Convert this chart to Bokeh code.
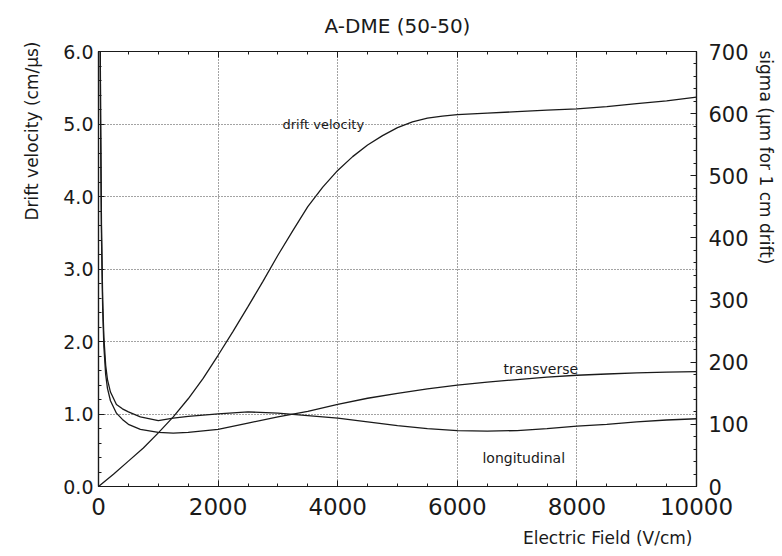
from bokeh.plotting import figure
from bokeh.models import (Range1d, LinearAxis, FixedTicker, Label, Title,
                          PrintfTickFormatter)
from bokeh.embed import file_html
from bokeh.resources import INLINE

# Electric field (V/cm) and drift velocity (cm/us)
field_v = [0, 250, 500, 750, 1000, 1250, 1500, 1750, 2000, 2250, 2500, 2750,
           3000, 3250, 3500, 3750, 4000, 4250, 4500, 4750, 5000, 5250, 5500,
           5750, 6000, 6500, 7000, 7500, 8000, 8500, 9000, 9500, 10000]
drift_velocity = [0.0, 0.17, 0.35, 0.53, 0.74, 0.96, 1.21, 1.49, 1.81, 2.14,
                  2.48, 2.83, 3.19, 3.53, 3.86, 4.13, 4.36, 4.55, 4.71, 4.84,
                  4.95, 5.03, 5.08, 5.11, 5.13, 5.15, 5.17, 5.19, 5.21, 5.24,
                  5.28, 5.32, 5.37]

# Electric field (V/cm) and diffusion sigma (um for 1 cm drift)
field_s = [20, 35, 50, 70, 90, 120, 150, 200, 300, 400, 500, 700, 1000, 1250,
           1500, 2000, 2500, 3000, 3500, 4000, 4500, 5000, 5500, 6000, 6500,
           7000, 7500, 8000, 8500, 9000, 9500, 10000]
sigma_longitudinal = [900, 600, 420, 300, 240, 195, 172, 152, 132, 125, 120,
                      112, 106, 110, 113, 117, 120, 118, 114, 110, 104, 98, 93,
                      90, 89, 90, 93, 97, 100, 104, 107, 109]
sigma_transverse = [880, 580, 400, 285, 225, 180, 158, 138, 118, 108, 100, 92,
                    87, 86, 87, 92, 102, 112, 121, 132, 142, 150, 157, 163,
                    168, 172, 176, 179, 181, 183, 184, 185]

x_ticks = [0, 2000, 4000, 6000, 8000, 10000]
x_minor = list(range(0, 10001, 500))
v_ticks = [0, 1, 2, 3, 4, 5, 6]
v_minor = [i * 0.2 for i in range(31)]
s_ticks = list(range(0, 701, 100))
s_minor = list(range(0, 701, 20))

FONT = "DejaVu Sans"
INK = "#1a1a1a"

p = figure(width=782, height=556, x_range=Range1d(0, 10000),
           y_range=Range1d(0, 6), output_backend="svg", toolbar_location=None,
           min_border_left=98, min_border_right=86, min_border_top=51,
           min_border_bottom=70)
p.background_fill_color = "white"
p.border_fill_color = "white"
p.outline_line_color = INK
p.outline_line_width = 1.2

p.title.text = "A-DME (50-50)"
p.title.align = "center"
p.title.vertical_align = "top"
p.title.text_font = FONT
p.title.text_font_size = "20px"
p.title.text_font_style = "normal"
p.title.text_color = INK
p.title.standoff = 24

p.extra_y_ranges = {"sigma": Range1d(0, 700)}


def style_axis(ax, size):
    ax.axis_line_color = INK
    ax.axis_line_width = 1.2
    ax.major_tick_in = 6
    ax.major_tick_out = 0
    ax.minor_tick_in = 3
    ax.minor_tick_out = 0
    ax.major_tick_line_color = INK
    ax.minor_tick_line_color = INK
    ax.major_label_text_font = FONT
    ax.major_label_text_font_size = size
    ax.major_label_text_color = INK


xa = p.xaxis[0]
xa.ticker = FixedTicker(ticks=x_ticks, minor_ticks=x_minor)
style_axis(xa, "23px")
xa.major_label_standoff = 11

ya = p.yaxis[0]
ya.ticker = FixedTicker(ticks=v_ticks, minor_ticks=v_minor)
ya.formatter = PrintfTickFormatter(format="%.1f")
style_axis(ya, "19px")
ya.major_label_standoff = 5

ra = LinearAxis(y_range_name="sigma",
                ticker=FixedTicker(ticks=s_ticks, minor_ticks=s_minor))
style_axis(ra, "21px")
ra.major_label_standoff = 12
p.add_layout(ra, "right")

# top edge carries tick marks only
ta = LinearAxis(ticker=FixedTicker(ticks=x_ticks, minor_ticks=x_minor))
style_axis(ta, "1px")
ta.major_label_text_color = None
ta.major_label_standoff = 0
p.add_layout(ta, "above")

# dotted reference grid
p.xgrid.ticker = FixedTicker(ticks=[2000, 4000, 6000, 8000])
p.ygrid.ticker = FixedTicker(ticks=[1, 2, 3, 4, 5])
for g in (p.xgrid[0], p.ygrid[0]):
    g.grid_line_color = "#333333"
    g.grid_line_dash = "1 2"
    g.grid_line_width = 1
    g.grid_line_alpha = 0.9

p.line(field_v, drift_velocity, line_color=INK, line_width=1.3)
p.line(field_s, sigma_longitudinal, y_range_name="sigma", line_color=INK,
       line_width=1.3)
p.line(field_s, sigma_transverse, y_range_name="sigma", line_color=INK,
       line_width=1.3)

# curve names
for txt, x, y, size in (("drift velocity", 3077, 5.0, "13px"),
                        ("transverse", 6773, 1.625, "14px"),
                        ("longitudinal", 6421, 0.40, "14px")):
    p.add_layout(Label(x=x, y=y, text=txt, text_font=FONT,
                       text_font_size=size, text_color=INK,
                       text_baseline="alphabetic"))

# axis titles, pushed toward the far ends of their axes
p.add_layout(Title(text="Drift velocity (cm/\u03bcs)", align="right",
                   offset=-10, standoff=38, text_font=FONT,
                   text_font_size="17px", text_font_style="normal",
                   text_color=INK), "left")
p.add_layout(Title(text="sigma (\u03bcm for 1 cm drift)", align="left",
                   offset=-1, standoff=8, text_font=FONT,
                   text_font_size="17px", text_font_style="normal",
                   text_color=INK), "right")
p.add_layout(Title(text="Electric Field (V/cm)", align="right",
                   offset=4, standoff=16, text_font=FONT,
                   text_font_size="17px", text_font_style="normal",
                   text_color=INK), "below")

open("out.html", "w").write(file_html(p, INLINE))
